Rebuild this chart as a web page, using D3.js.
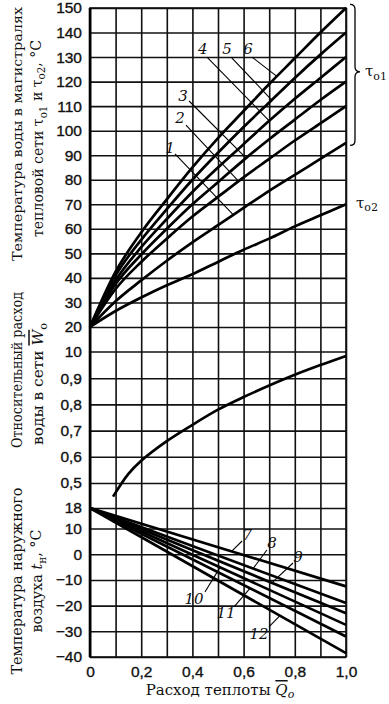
<!DOCTYPE html>
<html lang="ru">
<head>
<meta charset="UTF-8">
<title>Графики регулирования</title>
<style>
  body { margin: 0; background: #fff; }
  svg { display: block; font-family: "DejaVu Serif", serif; }
  .grid line { stroke: #111; stroke-width: 1.6px; }
  .grid path { display: none; }
  .grid text { font-size: 15.5px; fill: #111; stroke: #111; stroke-width: 0.35px; }
  .frame { fill: none; stroke: #111; stroke-width: 1.6px; }
  .curve { fill: none; stroke: #000; stroke-width: 2.7px; }
  .leader { stroke: #000; stroke-width: 1.1px; }
  .num { font-style: italic; font-size: 15px; fill: #111; }
  .title { font-size: 15px; fill: #111; }
</style>
</head>
<body>
<script src="https://d3js.org/d3.v7.min.js"></script>
<script>
// relative heat load, x axis
var qPts = [0, 0.1, 0.2, 0.3, 0.4, 0.5, 0.6, 0.7, 0.8, 0.9, 1.0];

// supply temperature tau_o1, curves 1..6, and return tau_o2 (°C)
var tau1 = [20, 30.5, 39, 47, 54.5, 61.5, 68.5, 75.5, 82, 88.5, 95];
var tau2 = [20, 35.5, 46.5, 56, 65, 73, 81, 88.5, 96, 103, 110];
var tau3 = [20, 37.5, 49.5, 60, 70, 79, 88, 96.5, 104.5, 112.5, 120];
var tau4 = [20, 39, 52.5, 64, 75, 85, 94.5, 104, 113, 121.5, 130];
var tau5 = [20, 41, 55.5, 68, 80, 91, 101.5, 111.5, 121.5, 131, 140];
var tau6 = [20, 42.5, 58.5, 72, 85, 97, 108, 119, 129.5, 140, 150];
var tauO2 = [20, 26.5, 32, 37, 41.5, 46.5, 51.5, 56, 61, 65.5, 70];

// relative water flow W_o
var wQ = [0.09, 0.15, 0.2, 0.3, 0.4, 0.5, 0.6, 0.7, 0.8, 0.9, 1.0];
var wVals = [0.448, 0.535, 0.585, 0.66, 0.722, 0.78, 0.828, 0.872, 0.913, 0.95, 0.985];

// outdoor temperature lines 7..12
var outQ = [0, 1];
var out7 = [18, -12.5];
var out8 = [18, -19];
var out9 = [18, -23];
var out10 = [18, -27.5];
var out11 = [18, -32];
var out12 = [18, -38.5];

// tick labels
var tauTicks = [10, 20, 30, 40, 50, 60, 70, 80, 90, 100, 110, 120, 130, 140, 150];
var wTicks = [0.5, 0.6, 0.7, 0.8, 0.9];
var outTicks = [18, 10, 0, -10, -20, -30, -40];
var qTicks = [0, 0.1, 0.2, 0.3, 0.4, 0.5, 0.6, 0.7, 0.8, 0.9, 1.0];

var W = 389, H = 704;
var svg = d3.select("body").append("svg").attr("width", W).attr("height", H);

var x = d3.scaleLinear().domain([0, 1]).range([90, 346]);
var yT = d3.scaleLinear().domain([10, 150]).range([351.5, 8]);
var yM = d3.scaleLinear().domain([0.5, 1.0]).range([483, 352]);
var yB = d3.scaleLinear().domain([-40, 18]).range([657, 508]);

var plotW = x(1) - x(0);
var comma = function (d) { return d3.format(".1f")(d).replace(".", ","); };

// horizontal gridlines + labels
svg.append("g").attr("class", "grid")
    .attr("transform", "translate(" + x(0) + ",0)")
    .call(d3.axisLeft(yT).tickValues(tauTicks).tickSize(-plotW).tickPadding(8));
svg.append("g").attr("class", "grid")
    .attr("transform", "translate(" + x(0) + ",0)")
    .call(d3.axisLeft(yM).tickValues(wTicks).tickSize(-plotW).tickPadding(8).tickFormat(comma));
svg.append("g").attr("class", "grid")
    .attr("transform", "translate(" + x(0) + ",0)")
    .call(d3.axisLeft(yB).tickValues(outTicks).tickSize(-plotW).tickPadding(8));

// vertical gridlines + labels
svg.append("g").attr("class", "grid")
    .attr("transform", "translate(0," + yB(-40) + ")")
    .call(d3.axisBottom(x).tickValues(qTicks).tickSize(-(yB(-40) - yT(150))).tickPadding(9)
        .tickFormat(function (d) { return Math.round(d * 10) % 2 === 0 ? (d === 0 ? "0" : comma(d)) : ""; }));

svg.append("rect").attr("class", "frame")
    .attr("x", x(0)).attr("y", yT(150))
    .attr("width", plotW).attr("height", yB(-40) - yT(150));
svg.append("line").attr("x1", x(0)).attr("x2", x(0))
    .attr("y1", yT(150)).attr("y2", yB(-40))
    .attr("stroke", "#000").attr("stroke-width", 2.6);

// curves
function drawCurve(qs, vals, y, curve) {
    var line = d3.line()
        .x(function (d) { return x(d[0]); })
        .y(function (d) { return y(d[1]); })
        .curve(curve || d3.curveMonotoneX);
    svg.append("path").attr("class", "curve")
        .datum(d3.zip(qs, vals))
        .attr("d", line);
}
[tau1, tau2, tau3, tau4, tau5, tau6, tauO2].forEach(function (s) { drawCurve(qPts, s, yT); });
drawCurve(wQ, wVals, yM, d3.curveCatmullRom);
[out7, out8, out9, out10, out11, out12].forEach(function (s) { drawCurve(outQ, s, yB); });

// value of a series at q (for leader ends)
function at(qs, vals, q) {
    for (var i = 1; i < qs.length; i++) {
        if (q <= qs[i]) {
            var t = (q - qs[i - 1]) / (qs[i] - qs[i - 1]);
            return vals[i - 1] + t * (vals[i] - vals[i - 1]);
        }
    }
    return vals[vals.length - 1];
}

// curve number labels with leader lines (label pos, leader start, end q)
var topNotes = [
    { n: "1", s: tau1, lq: 0.3125, lv: 93, sq: 0.332, sv: 90.5, eq: 0.56 },
    { n: "2", s: tau2, lq: 0.352, lv: 105.2, sq: 0.375, sv: 102.3, eq: 0.58 },
    { n: "3", s: tau3, lq: 0.363, lv: 114.5, sq: 0.387, sv: 112.1, eq: 0.61 },
    { n: "4", s: tau4, lq: 0.441, lv: 133.3, sq: 0.457, sv: 130, eq: 0.70 },
    { n: "5", s: tau5, lq: 0.535, lv: 133.3, sq: 0.551, sv: 130, eq: 0.71 },
    { n: "6", s: tau6, lq: 0.617, lv: 133.3, sq: 0.633, sv: 130, eq: 0.73 }
];
var botNotes = [
    { n: "7", s: out7, lq: 0.614, lv: 7.5, sq: 0.594, sv: 5.15, eq: 0.553 },
    { n: "8", s: out8, lq: 0.711, lv: 4.4, sq: 0.691, sv: 1.65, eq: 0.637 },
    { n: "9", s: out9, lq: 0.8125, lv: -1.1, sq: 0.793, sv: -3.4, eq: 0.71 },
    { n: "10", s: out10, lq: 0.406, lv: -17.4, sq: 0.449, sv: -14.7, eq: 0.508 },
    { n: "11", s: out11, lq: 0.531, lv: -22.9, sq: 0.5625, sv: -20.5, eq: 0.625 },
    { n: "12", s: out12, lq: 0.66, lv: -30.7, sq: 0.699, sv: -28.3, eq: 0.742 }
];
function notes(list, qs, y) {
    list.forEach(function (d) {
        svg.append("line").attr("class", "leader")
            .attr("x1", x(d.sq)).attr("y1", y(d.sv))
            .attr("x2", x(d.eq)).attr("y2", y(at(qs, d.s, d.eq)));
        svg.append("text").attr("class", "num")
            .attr("x", x(d.lq)).attr("y", y(d.lv))
            .attr("dy", "0.36em").attr("text-anchor", "middle")
            .text(d.n);
    });
}
notes(topNotes, qPts, yT);
notes(botNotes, outQ, yB);

// brace and tau labels on the right
var bx = x(1) + 4, bw = 5, by0 = yT(151.5), by1 = yT(94), bym = yT(124), r = 5;
svg.append("path")
    .attr("d", "M" + bx + "," + by0 +
        " Q" + (bx + bw) + "," + by0 + " " + (bx + bw) + "," + (by0 + r) +
        " L" + (bx + bw) + "," + (bym - r) +
        " Q" + (bx + bw) + "," + bym + " " + (bx + 2 * bw) + "," + bym +
        " Q" + (bx + bw) + "," + bym + " " + (bx + bw) + "," + (bym + r) +
        " L" + (bx + bw) + "," + (by1 - r) +
        " Q" + (bx + bw) + "," + by1 + " " + bx + "," + by1)
    .attr("fill", "none").attr("stroke", "#000").attr("stroke-width", 1.3);

function tauLabel(px, v, sub) {
    var t = svg.append("text").attr("class", "title")
        .attr("x", px).attr("y", yT(v)).attr("dy", "0.3em");
    t.append("tspan").text("τ");
    t.append("tspan").attr("dy", "0.3em").attr("font-size", "11px").text(sub);
}
tauLabel(x(1) + 19, 124, "o1");
tauLabel(x(1) + 10, 70.5, "o2");

// rotated axis titles
function vTitle(cx, cy, len, parts, size) {
    var t = svg.append("text").attr("class", "title")
        .attr("transform", "translate(" + cx + "," + cy + ") rotate(-90)")
        .attr("text-anchor", "middle").attr("dy", "0.35em")
        .attr("textLength", len).attr("lengthAdjust", "spacingAndGlyphs");
    if (size) t.style("font-size", size + "px");
    parts.forEach(function (p) {
        var s = t.append("tspan").text(p.t);
        if (p.sub) s.attr("font-size", "11px").attr("dy", "0.3em");
        if (p.back) s.attr("dy", "-0.3em");
        if (p.it) s.attr("font-style", "italic");
        if (p.over) s.attr("text-decoration", "overline");
    });
}
vTitle(17, 134, 254, [{ t: "Температура воды в магистралях" }], 13.5);
vTitle(38, 138.5, 197, [
    { t: "тепловой сети τ" }, { t: "o1", sub: true },
    { t: " и τ", back: true }, { t: "o2", sub: true }, { t: ", °C", back: true }
]);
vTitle(17, 370, 156, [{ t: "Относительный расход" }]);
vTitle(38, 384, 122, [{ t: "воды в сети " }, { t: "W", it: true, over: true }, { t: "o", sub: true }]);
vTitle(17, 581, 187, [{ t: "Температура наружного" }]);
vTitle(37, 581, 103, [{ t: "воздуха " }, { t: "t", it: true }, { t: "н", sub: true }, { t: ", °C", back: true }]);

// x axis title
var xt = svg.append("text").attr("class", "title")
    .attr("x", 220).attr("y", 695).attr("text-anchor", "middle");
xt.append("tspan").text("Расход теплоты ");
xt.append("tspan").attr("font-style", "italic").attr("text-decoration", "overline").text("Q");
xt.append("tspan").attr("font-size", "11px").attr("dy", "0.3em").attr("font-style", "italic").text("o");
</script>
</body>
</html>
